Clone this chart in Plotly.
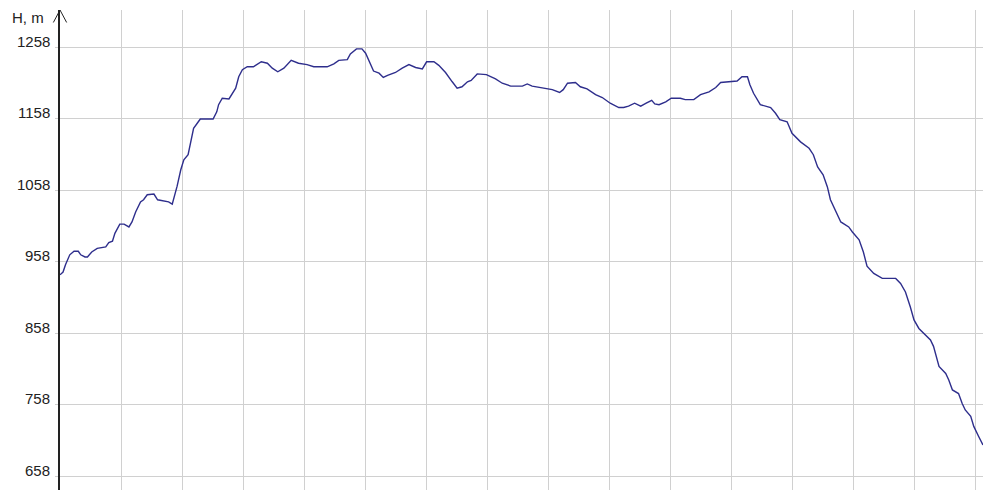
import plotly.graph_objects as go

# distance along the profile (one grid cell = 1 unit) and elevation, m
distance = [
    0.00, 0.05, 0.09, 0.16, 0.23, 0.30, 0.34, 0.41, 0.45, 0.52,
    0.61, 0.75, 0.80, 0.86, 0.90, 0.98, 1.05, 1.13, 1.18, 1.24,
    1.32, 1.37, 1.43, 1.54, 1.60, 1.70, 1.78, 1.84, 1.88, 1.92,
    1.98, 2.03, 2.10, 2.14, 2.19, 2.25, 2.30, 2.51, 2.57, 2.60,
    2.66, 2.77, 2.82, 2.88, 2.93, 2.99, 3.07, 3.17, 3.30, 3.40,
    3.48, 3.57, 3.67, 3.79, 3.91, 4.05, 4.16, 4.38, 4.49, 4.57,
    4.71, 4.76, 4.86, 4.95, 5.01, 5.08, 5.14, 5.23, 5.30, 5.37,
    5.50, 5.61, 5.72, 5.83, 5.94, 6.01, 6.13, 6.21, 6.32, 6.43,
    6.51, 6.59, 6.68, 6.74, 6.84, 6.99, 7.14, 7.25, 7.39, 7.58,
    7.66, 7.74, 7.90, 8.07, 8.19, 8.25, 8.32, 8.45, 8.53, 8.64,
    8.78, 8.89, 9.02, 9.16, 9.24, 9.32, 9.42, 9.52, 9.61, 9.70,
    9.75, 9.82, 9.93, 10.02, 10.17, 10.25, 10.39, 10.50, 10.64, 10.75,
    10.83, 10.99, 11.10, 11.18, 11.27, 11.31, 11.37, 11.48, 11.65, 11.73,
    11.80, 11.92, 12.00, 12.14, 12.28, 12.35, 12.42, 12.51, 12.58, 12.63,
    12.71, 12.80, 12.93, 12.99, 13.10, 13.17, 13.23, 13.34, 13.48, 13.70,
    13.78, 13.86, 13.94, 14.00, 14.08, 14.19, 14.27, 14.32, 14.38, 14.41,
    14.52, 14.57, 14.63, 14.73, 14.79, 14.84, 14.93, 14.98, 15.06, 15.13,
]
elevation = [
    940, 944, 954, 968, 973, 973, 968, 965, 965, 972,
    977, 979, 985, 987, 998, 1011, 1011, 1007, 1014, 1028,
    1042, 1045, 1052, 1053, 1045, 1043, 1042, 1039, 1050, 1064,
    1087, 1101, 1108, 1126, 1145, 1152, 1158, 1158, 1168, 1178,
    1187, 1186, 1192, 1201, 1217, 1227, 1231, 1231, 1238, 1236,
    1229, 1224, 1229, 1240, 1236, 1234, 1231, 1231, 1235, 1240,
    1241, 1249, 1256, 1256, 1250, 1236, 1225, 1222, 1216, 1219,
    1223, 1229, 1234, 1230, 1228, 1238, 1238, 1233, 1223, 1210,
    1201, 1203, 1210, 1212, 1221, 1220, 1214, 1208, 1204, 1204,
    1207, 1204, 1202, 1199, 1195, 1199, 1208, 1209, 1203, 1200,
    1192, 1188, 1180, 1174, 1174, 1176, 1180, 1176, 1180, 1184,
    1179, 1178, 1182, 1187, 1187, 1185, 1185, 1192, 1196, 1202,
    1209, 1210, 1211, 1217, 1217, 1206, 1194, 1178, 1174, 1166,
    1157, 1154, 1138, 1126, 1117, 1108, 1091, 1080, 1063, 1045,
    1031, 1014, 1007, 1000, 989, 972, 952, 942, 935, 935,
    928, 916, 895, 877, 865, 856, 849, 840, 823, 812,
    802, 793, 779, 774, 760, 751, 742, 728, 714, 702,
]
y_ticks = [658, 758, 858, 958, 1058, 1158, 1258]

fig = go.Figure()
fig.add_trace(go.Scatter(
    x=distance,
    y=elevation,
    mode='lines',
    line=dict(color='#2e2e8c', width=1.4),
    hoverinfo='skip',
    showlegend=False
))

# tick labels sit just above their grid line, so they are drawn as annotations
tick_labels = [
    dict(text=str(v), xref='paper', yref='y', x=0, y=v,
         xanchor='right', yanchor='middle', xshift=-8, yshift=6,
         showarrow=False, font=dict(size=15, color='#222222'))
    for v in y_ticks
]

fig.update_layout(
    width=983,
    height=490,
    margin=dict(l=60, r=0, t=10, b=0, autoexpand=False),
    paper_bgcolor='white',
    plot_bgcolor='white',
    font=dict(family='Liberation Sans, Arial, sans-serif', size=15, color='#222222'),
    xaxis=dict(
        range=[0, 923 / 61],
        dtick=1,
        tick0=0,
        showgrid=True,
        gridcolor='#d0d0d0',
        gridwidth=1,
        showticklabels=False,
        zeroline=False,
        showline=False,
        automargin=False,
        fixedrange=True
    ),
    yaxis=dict(
        range=[639.1, 1310.4],
        tickvals=y_ticks,
        showticklabels=False,
        showgrid=True,
        gridcolor='#d0d0d0',
        gridwidth=1,
        zeroline=False,
        showline=True,
        linecolor='#222222',
        linewidth=1.5,
        ticks='outside',
        ticklen=3,
        tickcolor='#d0d0d0',
        automargin=False,
        fixedrange=True
    ),
    shapes=[
        # arrow head on top of the vertical axis
        dict(type='path', xref='paper', yref='paper',
             path='M -0.0072,0.974 L 0,1.0 L 0.0072,0.974',
             line=dict(color='#222222', width=1))
    ],
    annotations=tick_labels + [
        dict(text='H, m', xref='paper', yref='paper',
             x=-0.0542, y=0.985, xanchor='left', yanchor='middle',
             showarrow=False, font=dict(size=15, color='#222222'))
    ]
)

# the page's default body margin would push the figure 8px right and down
fig.write_html("out.html", config={'displayModeBar': False},
               post_script="document.body.style.margin='0';")
